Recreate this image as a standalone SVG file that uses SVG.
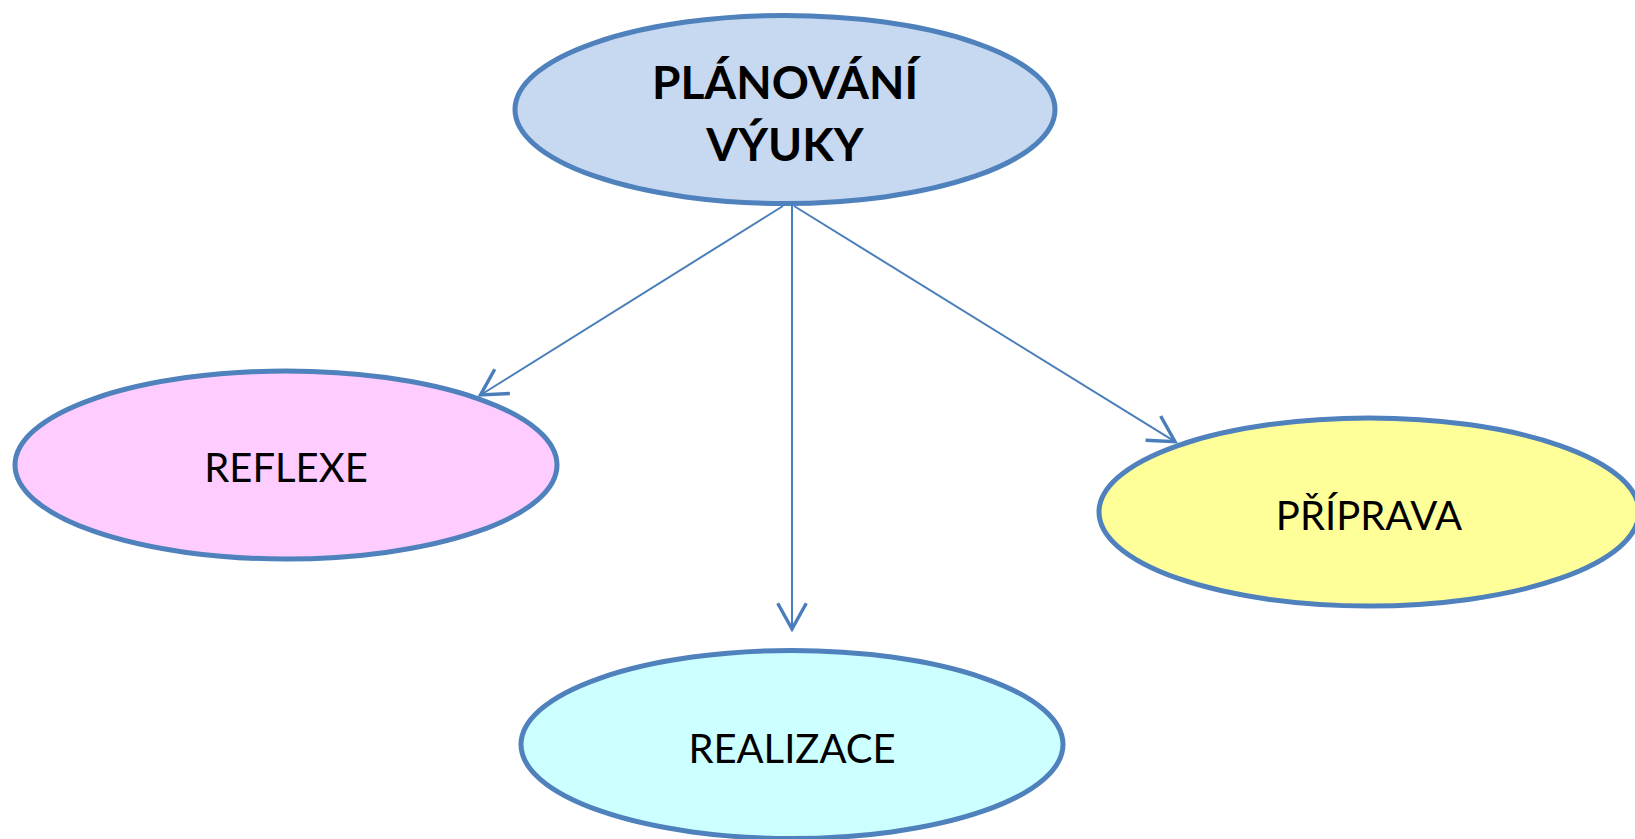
<svg xmlns="http://www.w3.org/2000/svg" width="1635" height="839" viewBox="0 0 1635 839">
<style>
.node{stroke:#4f81bd;stroke-width:5}
.lbl{font-family:Lato,"Open Sans","Liberation Sans",sans-serif;font-size:40px;fill:#000;text-anchor:middle}
.bold{font-weight:bold;font-size:46px}
.conn{stroke:#4a7ebb;stroke-width:2;fill:none}
</style>
<defs>
<marker id="arr" markerUnits="userSpaceOnUse" markerWidth="40" markerHeight="40" viewBox="-22 -14 26 28" refX="0" refY="0" orient="auto">
<path d="M-18,-10 L0,0 L-18,10" fill="none" stroke="#4a7ebb" stroke-width="2.4"/>
</marker>
</defs>
<rect width="1635" height="839" fill="#fff"/>
<g id="node-planovani">
<ellipse class="node" cx="785" cy="109.5" rx="270" ry="94" fill="#c6d9f1"/>
<text class="lbl bold" x="785" y="99">PLÁNOVÁNÍ</text>
<text class="lbl bold" x="785" y="161">VÝUKY</text>
</g>
<g id="node-reflexe">
<ellipse class="node" cx="286" cy="465" rx="271" ry="94" fill="#ffccff"/>
<text class="lbl" x="286" y="482">REFLEXE</text>
</g>
<g id="node-priprava">
<ellipse class="node" cx="1369" cy="512" rx="270" ry="94" fill="#ffff99"/>
<text class="lbl" x="1369" y="530">PŘÍPRAVA</text>
</g>
<g id="node-realizace">
<ellipse class="node" cx="792" cy="744.5" rx="271" ry="94" fill="#ccffff"/>
<text class="lbl" x="792" y="763">REALIZACE</text>
</g>
<g id="connectors">
<line class="conn" x1="783" y1="206" x2="480.5" y2="395" marker-end="url(#arr)"/>
<line class="conn" x1="792" y1="202" x2="792" y2="629" marker-end="url(#arr)"/>
<line class="conn" x1="794" y1="206" x2="1175" y2="441.7" marker-end="url(#arr)"/>
</g>
</svg>
